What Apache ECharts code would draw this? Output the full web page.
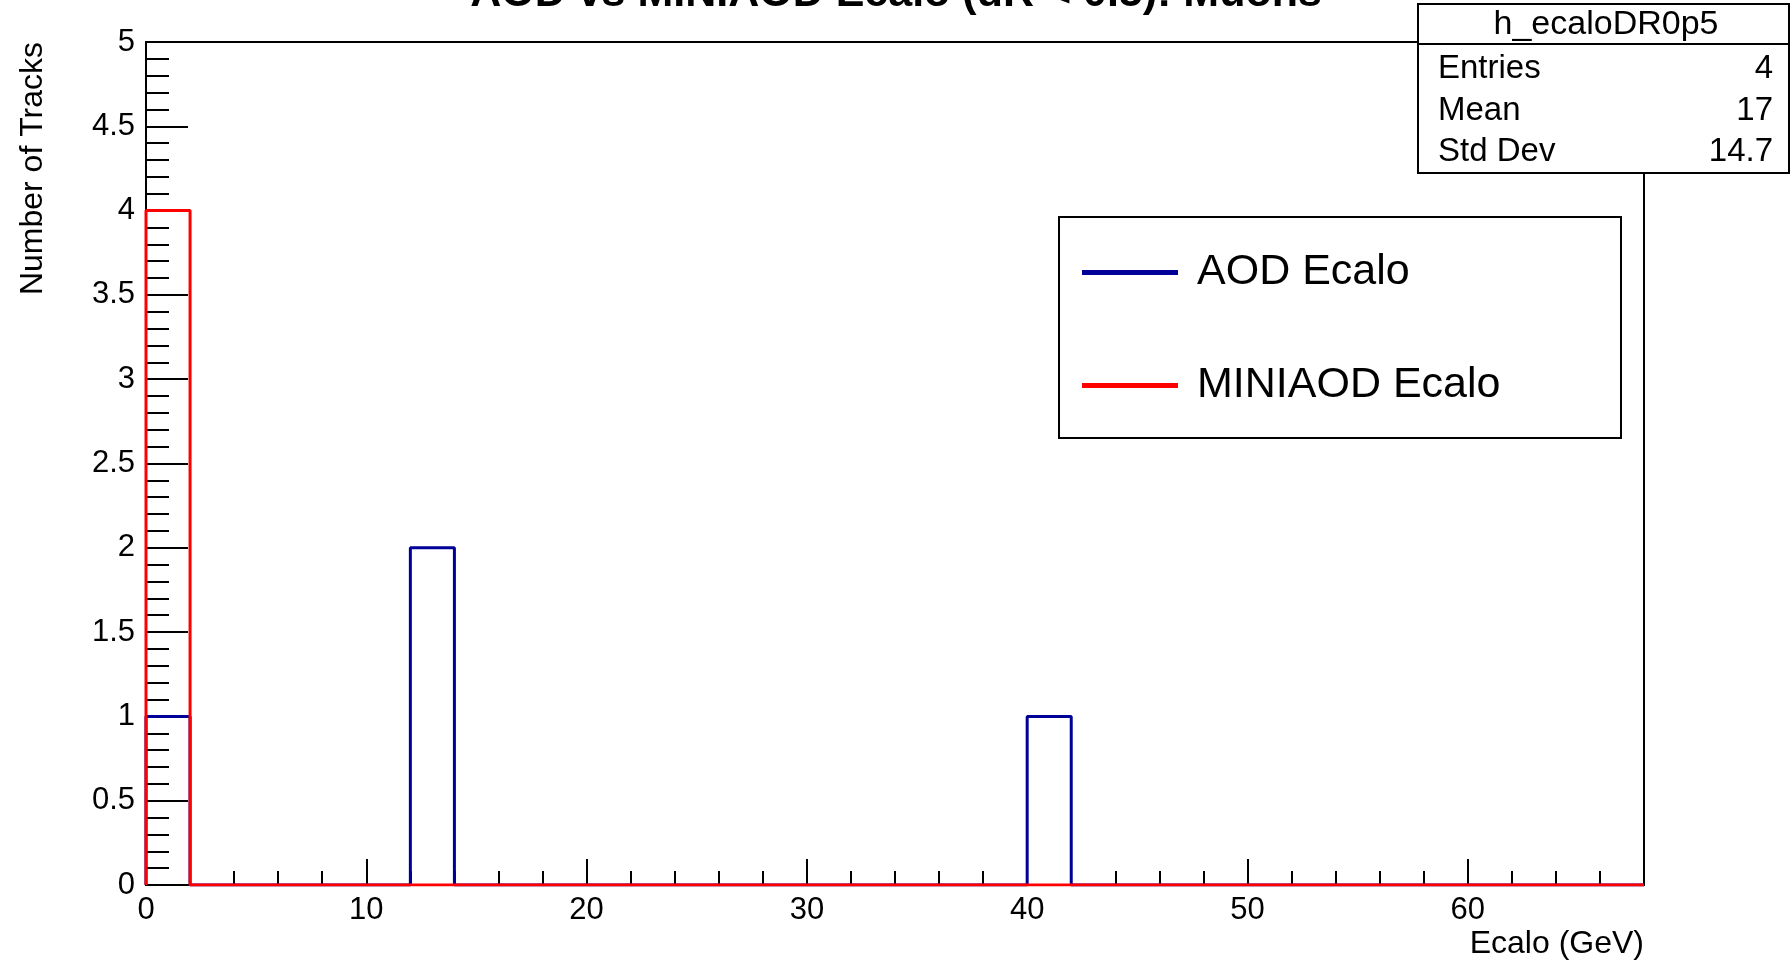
<!DOCTYPE html>
<html>
<head>
<meta charset="utf-8">
<script src="https://cdn.jsdelivr.net/npm/echarts@6/dist/echarts.min.js"></script>
<style>
  html, body { margin: 0; padding: 0; background: #fff; }
  #chart { width: 1790px; height: 961px; }
</style>
</head>
<body>
<div id="chart"></div>
<script>
// bin edges of h_ecaloDR0p5 (Ecalo, GeV), 2 GeV per bin
const binEdges = [0, 2, 4, 6, 8, 10, 12, 14, 16, 18, 20, 22, 24, 26, 28, 30, 32, 34,
    36, 38, 40, 42, 44, 46, 48, 50, 52, 54, 56, 58, 60, 62, 64, 66, 68]
const aodCounts = [1, 0, 0, 0, 0, 0, 2, 0, 0, 0, 0, 0, 0, 0, 0, 0, 0,
    0, 0, 0, 1, 0, 0, 0, 0, 0, 0, 0, 0, 0, 0, 0, 0, 0]
const miniaodCounts = [4, 0, 0, 0, 0, 0, 0, 0, 0, 0, 0, 0, 0, 0, 0, 0, 0,
    0, 0, 0, 0, 0, 0, 0, 0, 0, 0, 0, 0, 0, 0, 0, 0, 0]
const seriesNames = ['AOD Ecalo', 'MINIAOD Ecalo']
const statLabels = ['Entries', 'Mean', 'Std Dev']
const statValues = ['4', '17', '14.7']

const FONT = 'Liberation Sans, Arial, Helvetica, sans-serif'

// histogram outline, like ROOT draws it
const toSteps = (counts) => {
    const pts = [[binEdges[0], 0]]
    counts.forEach((c, i) => {
        pts.push([binEdges[i], c], [binEdges[i + 1], c])
    })
    pts.push([binEdges[binEdges.length - 1], 0])
    return pts
}

const chart = echarts.init(document.getElementById('chart'), null, { renderer: 'canvas' })

const statRows = []
statLabels.forEach((label, i) => {
    const y = 69 + i * 41.5
    statRows.push({
        type: 'text', z: 11, x: 1438, y: y,
        style: { text: label, font: '33px ' + FONT, fill: '#000', textAlign: 'left', align: 'left', textVerticalAlign: 'middle', verticalAlign: 'middle' }
    })
    statRows.push({
        type: 'text', z: 11, x: 1773, y: y,
        style: { text: statValues[i], font: '33px ' + FONT, fill: '#000', textAlign: 'right', align: 'right', textVerticalAlign: 'middle', verticalAlign: 'middle' }
    })
})

chart.setOption({
    animation: false,
    backgroundColor: '#fff',
    grid: {
        left: 146, right: 146, top: 42, bottom: 76,
        show: true, borderColor: '#000', borderWidth: 2
    },
    xAxis: {
        type: 'value', min: 0, max: 68, interval: 10,
        axisLine: { show: true, lineStyle: { color: '#000', width: 2 } },
        axisTick: { inside: true, length: 26, lineStyle: { color: '#000', width: 2 } },
        minorTick: { show: true, splitNumber: 5, length: 14, lineStyle: { color: '#000', width: 2 } },
        axisLabel: { showMaxLabel: false, margin: 10, color: '#000', fontSize: 31, fontFamily: FONT },
        splitLine: { show: false }
    },
    yAxis: {
        type: 'value', min: 0, max: 5, interval: 0.5,
        axisLine: { show: true, lineStyle: { color: '#000', width: 2 } },
        axisTick: { inside: true, length: 42, lineStyle: { color: '#000', width: 2 } },
        minorTick: { show: true, splitNumber: 5, length: 23, lineStyle: { color: '#000', width: 2 } },
        axisLabel: { margin: 11, color: '#000', fontSize: 31, fontFamily: FONT },
        splitLine: { show: false }
    },
    legend: {
        orient: 'vertical', left: 1082, top: 251, padding: 0,
        itemWidth: 96, itemHeight: 5, itemGap: 70, icon: 'rect',
        textStyle: { fontSize: 43, lineHeight: 42, color: '#000', fontFamily: FONT, padding: [0, 0, 0, 14] },
        data: seriesNames
    },
    series: [
        {
            name: seriesNames[0], type: 'line', data: toSteps(aodCounts),
            symbol: 'none', color: '#000099',
            lineStyle: { color: '#000099', width: 3 }, z: 3
        },
        {
            name: seriesNames[1], type: 'line', data: toSteps(miniaodCounts),
            symbol: 'none', color: '#ff0000',
            lineStyle: { color: '#ff0000', width: 3 }, z: 4
        }
    ],
    graphic: [
        {
            type: 'text', x: 896, y: 16,
            style: { text: 'AOD vs MINIAOD Ecalo (dR < 0.5): Muons', font: 'bold 43px ' + FONT, fill: '#000', textAlign: 'center', align: 'center', textVerticalAlign: 'bottom', verticalAlign: 'bottom' }
        },
        {
            type: 'text', x: 33, y: 42, rotation: Math.PI / 2,
            style: { text: 'Number of Tracks', font: '32px ' + FONT, fill: '#000', textAlign: 'right', align: 'right', textVerticalAlign: 'middle', verticalAlign: 'middle' }
        },
        {
            type: 'text', x: 1644, y: 944,
            style: { text: 'Ecalo (GeV)', font: '32px ' + FONT, fill: '#000', textAlign: 'right', align: 'right', textVerticalAlign: 'middle', verticalAlign: 'middle' }
        },
        {
            type: 'rect', z: 1,
            shape: { x: 1059, y: 217, width: 562, height: 221 },
            style: { fill: 'none', stroke: '#000', lineWidth: 2 }
        },
        {
            type: 'rect', z: 10,
            shape: { x: 1418, y: 4, width: 371, height: 169 },
            style: { fill: '#fff', stroke: '#000', lineWidth: 2 }
        },
        {
            type: 'line', z: 11,
            shape: { x1: 1418, y1: 44, x2: 1789, y2: 44 },
            style: { stroke: '#000', lineWidth: 2 }
        },
        {
            type: 'text', z: 11, x: 1606, y: 25,
            style: { text: 'h_ecaloDR0p5', font: '34px ' + FONT, fill: '#000', textAlign: 'center', align: 'center', textVerticalAlign: 'middle', verticalAlign: 'middle' }
        },
        ...statRows
    ]
})
</script>
</body>
</html>
